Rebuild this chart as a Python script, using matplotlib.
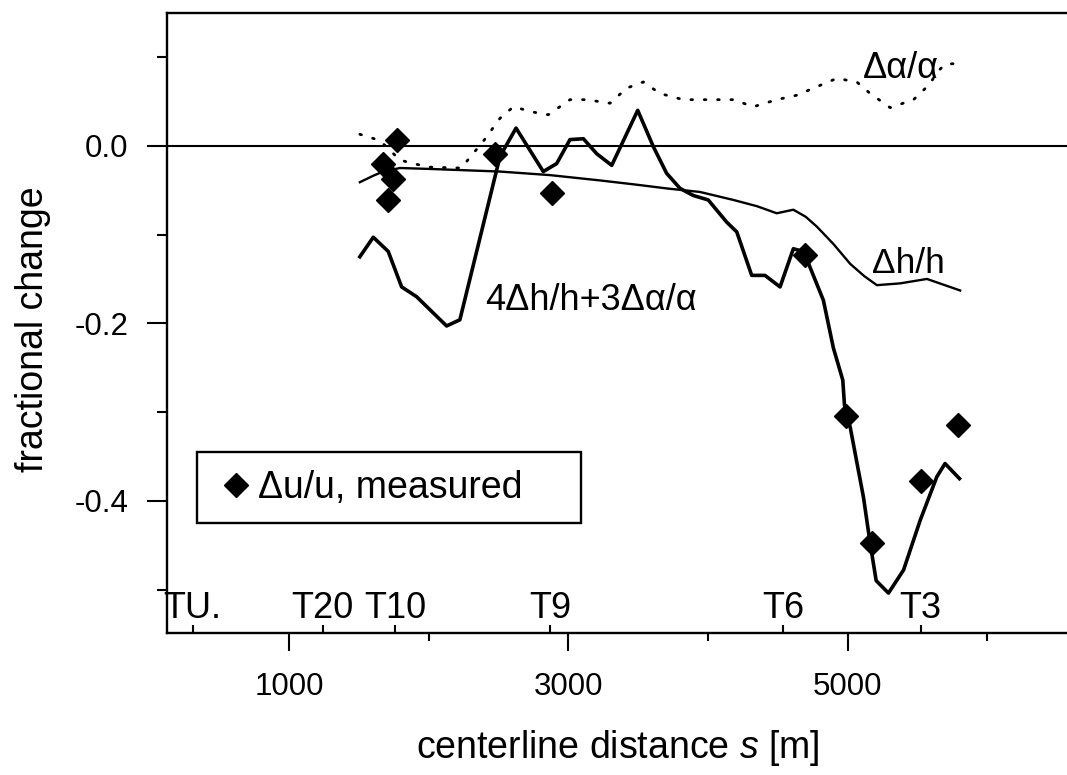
import matplotlib
matplotlib.use("Agg")
import matplotlib.pyplot as plt
import matplotlib.transforms as mtransforms
from matplotlib.ticker import FixedLocator

plt.rcParams['font.family'] = ['Liberation Sans', 'DejaVu Sans']
plt.rcParams['mathtext.fontset'] = 'custom'
plt.rcParams['mathtext.rm'] = 'Liberation Sans'
plt.rcParams['mathtext.it'] = 'Liberation Sans:italic'

# ---- data ----
# measured velocity change du/u
meas_s = [1776, 1676, 1747, 1707, 2475, 2885, 4695, 4989, 5177, 5526, 5793]
meas_v = [0.007, -0.020, -0.037, -0.061, -0.009, -0.053, -0.123, -0.304, -0.447, -0.378, -0.315]

# dh/h (thin line)
dh_s = [1508, 1600, 1674, 1795, 2000, 2511, 2869, 3227, 3500, 3704, 3943, 4182,
        4350, 4492, 4611, 4700, 4779, 4900, 5018, 5120, 5209, 5376, 5567, 5805]
dh_v = [-0.041, -0.034, -0.029, -0.025, -0.026, -0.029, -0.033, -0.039, -0.044, -0.048, -0.052, -0.061,
        -0.068, -0.076, -0.072, -0.080, -0.091, -0.111, -0.133, -0.147, -0.157, -0.155, -0.150, -0.163]

# 4dh/h + 3da/a (thick line)
comb_s = [1508, 1604, 1711, 1807, 1914, 2129, 2224, 2511, 2626, 2821, 2917, 3012, 3108,
          3204, 3311, 3497, 3609, 3704, 3800, 3895, 4002, 4134, 4206, 4313, 4408, 4516,
          4611, 4659, 4695, 4826, 4898, 4965, 4977, 5018, 5113, 5161, 5204, 5292, 5400,
          5519, 5638, 5697, 5800]
comb_v = [-0.125, -0.103, -0.119, -0.159, -0.170, -0.203, -0.196, -0.012, 0.020, -0.029, -0.020, 0.007, 0.008,
          -0.009, -0.022, 0.040, -0.001, -0.031, -0.048, -0.056, -0.061, -0.086, -0.097, -0.146, -0.146, -0.159,
          -0.116, -0.118, -0.123, -0.174, -0.228, -0.264, -0.292, -0.317, -0.396, -0.448, -0.490, -0.504, -0.478,
          -0.422, -0.373, -0.358, -0.375]

# da/a (dotted line)
da_s = [1508, 1651, 1795, 1889, 2010, 2234, 2317, 2391, 2511, 2607, 2750, 2857, 3012, 3131,
        3299, 3418, 3537, 3656, 3823, 3943, 4182, 4325, 4492, 4635, 4755, 4922, 5065, 5161,
        5304, 5471, 5591, 5638, 5700, 5805]
da_v = [0.013, 0.006, -0.016, -0.020, -0.024, -0.025, -0.009, 0.005, 0.031, 0.044, 0.038, 0.035, 0.052, 0.052,
        0.048, 0.065, 0.072, 0.059, 0.052, 0.052, 0.052, 0.044, 0.052, 0.057, 0.065, 0.076, 0.072, 0.059,
        0.043, 0.052, 0.070, 0.083, 0.092, 0.093]

transect_s = [311, 1241, 1759, 2868, 4536, 5522]
transect_lbl = ['TU.', 'T20', 'T10', 'T9', 'T6', 'T3']

xmajor = [1000, 3000, 5000]
xminor = [2000, 4000, 6000]
ymajor = [-0.4, -0.2, 0.0]
yminor = [-0.5, -0.3, -0.1, 0.1]

# ---- figure ----
fig = plt.figure(figsize=(10.67, 7.75), dpi=100)
ax = fig.add_axes([0.1562, 0.1832, 1.0 - 0.1562, 0.9836 - 0.1832])
ax.set_xlim(125, 6570)
ax.set_ylim(-0.549, 0.15)

for sp in ['left', 'top', 'bottom']:
    ax.spines[sp].set_linewidth(1.7)
ax.spines['right'].set_visible(False)

ax.axhline(0.0, color='black', lw=1.5, zorder=1)

ax.plot(dh_s, dh_v, color='black', lw=1.7, zorder=2)
ax.plot(comb_s, comb_v, color='black', lw=2.6, zorder=3)
ax.plot(da_s, da_v, color='black', lw=2.0, linestyle=(0, (0.6, 4.2)),
        dash_capstyle='round', zorder=2)
ax.plot(meas_s, meas_v, linestyle='none', marker='D', markersize=12,
        color='black', zorder=4, label='Δu/u, measured    ')

ax.xaxis.set_major_locator(FixedLocator(xmajor))
ax.xaxis.set_minor_locator(FixedLocator(xminor))
ax.set_xticklabels([str(v) for v in xmajor])
ax.yaxis.set_major_locator(FixedLocator(ymajor))
ax.yaxis.set_minor_locator(FixedLocator(yminor))
ax.set_yticklabels(['%.1f' % v for v in ymajor])

ax.tick_params(axis='x', which='major', direction='out', length=13, width=1.5,
               labelsize=22.5, pad=15)
ax.tick_params(axis='x', which='minor', direction='out', length=6, width=1.5)
ax.tick_params(axis='y', which='major', direction='out', length=14.4, width=1.5,
               labelsize=22.5, pad=13)
ax.tick_params(axis='y', which='minor', direction='out', length=7.2, width=1.5)

# transect markers (ticks pointing inward)
sec = ax.secondary_xaxis('bottom')
sec.set_xticks(transect_s)
sec.tick_params(direction='in', length=6, width=1.5, labelbottom=False)
sec.spines['bottom'].set_visible(False)
trans = mtransforms.blended_transform_factory(ax.transData, ax.transAxes)
for s, lbl in zip(transect_s, transect_lbl):
    ax.text(s, 0.040, lbl, transform=trans, ha='center', va='center', fontsize=26)

# curve labels
ax.text(5110, 0.0876, 'Δα/α', ha='left', va='center', fontsize=26)
ax.text(5175, -0.133, 'Δh/h', ha='left', va='center', fontsize=25.5)
ax.text(2404, -0.174, '4Δh/h+3Δα/α', ha='left', va='center', fontsize=26)

ax.set_xlabel('centerline distance $\\mathit{s}$ [m]', fontsize=27)
ax.xaxis.set_label_coords(0.5007, -0.153)
ax.xaxis.label.set_va('top')
ax.set_ylabel('fractional change', fontsize=27)
ax.yaxis.set_label_coords(-0.128, 0.49)

leg = ax.legend(loc='upper left', bbox_to_anchor=(0.0337, 0.2918), borderaxespad=0,
                fancybox=False, edgecolor='black', framealpha=1, fontsize=27,
                handlelength=1.15, handletextpad=0.0, borderpad=0.47, markerscale=1.0)
leg.get_frame().set_linewidth(1.7)

fig.savefig('out.png', dpi=100)
